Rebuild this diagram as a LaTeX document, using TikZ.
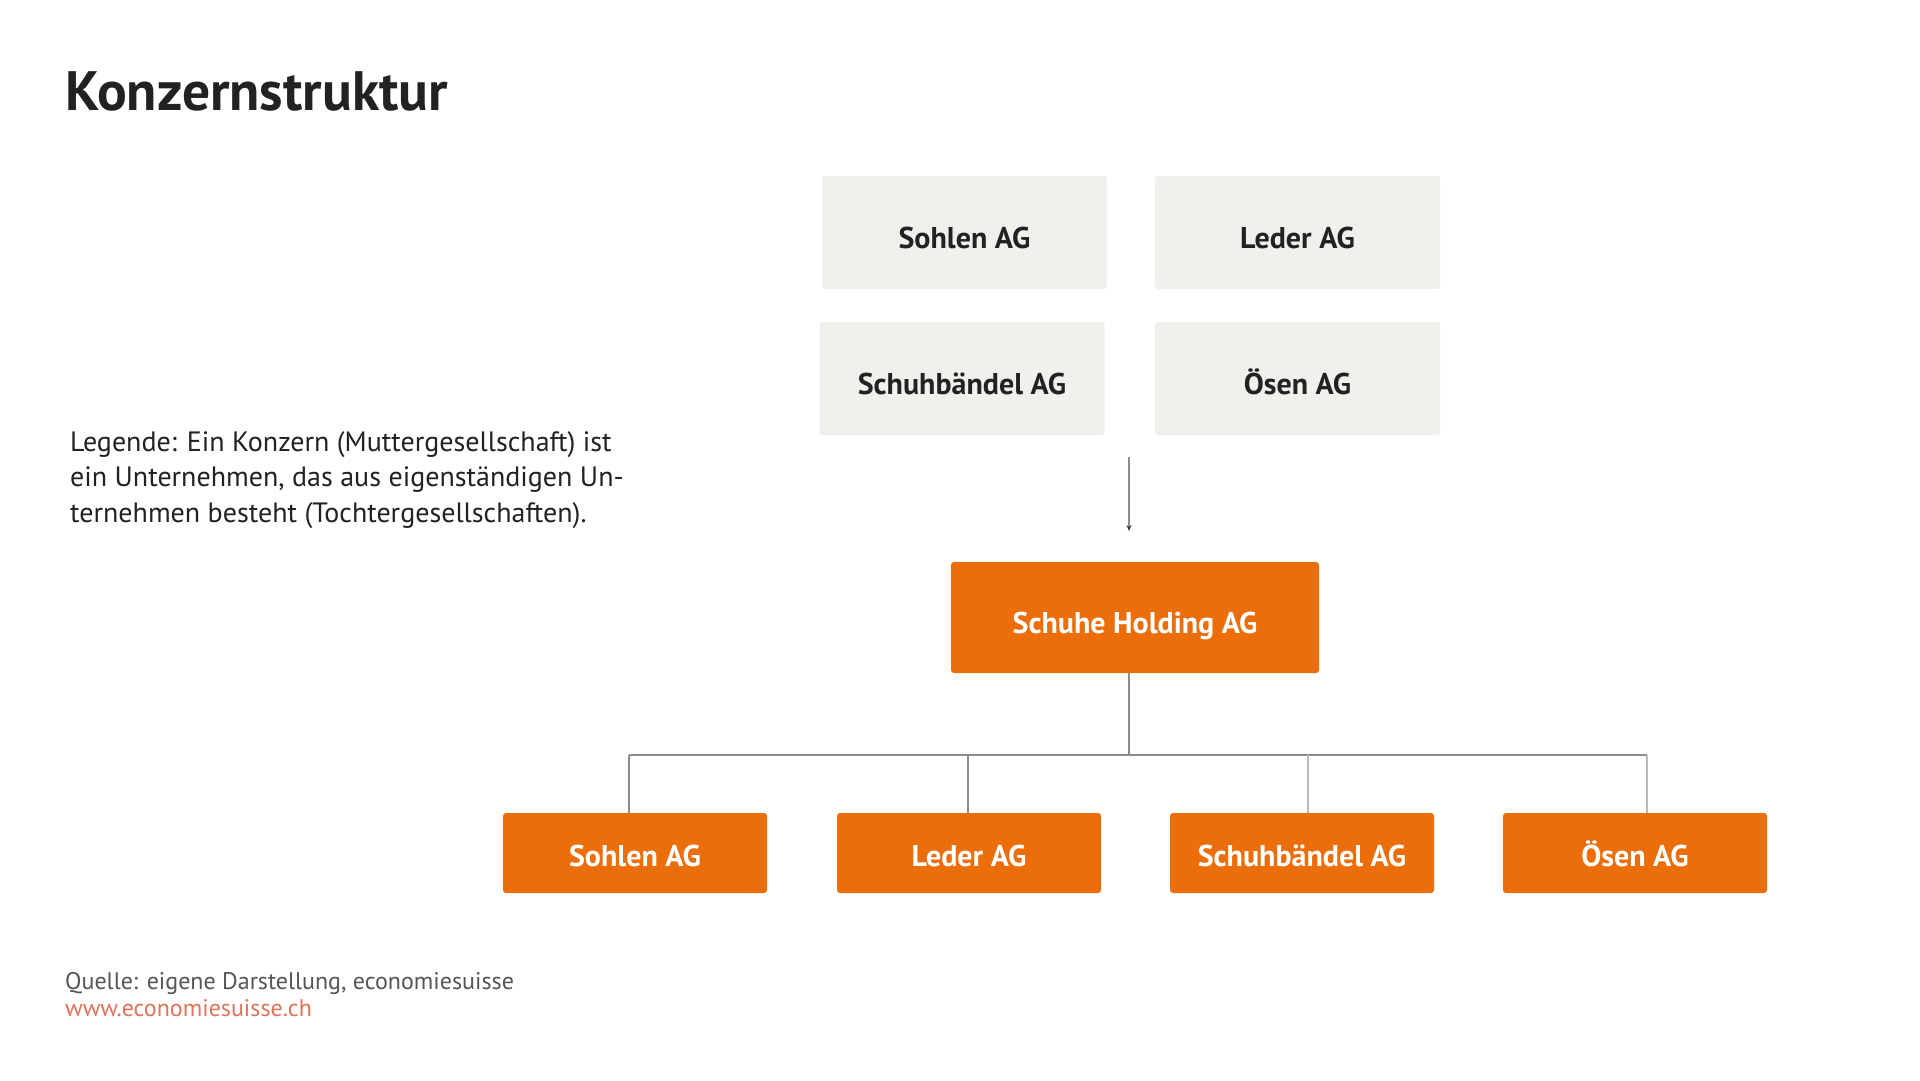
\documentclass[tikz,border=0pt]{standalone}
\usepackage{fontspec}
\setmainfont{PT Sans}
\usetikzlibrary{arrows.meta}
\definecolor{orng}{HTML}{EB6E0A}
\definecolor{lgray}{HTML}{F0F0EC}
\definecolor{txtdark}{HTML}{222222}
\definecolor{linegray}{HTML}{8C8C8C}
\definecolor{srcgray}{HTML}{555555}
\definecolor{urlred}{HTML}{E0735A}
\begin{document}
\begin{tikzpicture}[x=1pt,y=-1pt,
  boxfont/.style={font=\fontsize{30}{35}\selectfont\bfseries, text height=31pt, text depth=0pt},
  graybox/.style={boxfont, fill=lgray, rounded corners=3pt, minimum width=285pt, minimum height=113pt, inner sep=0pt, text=txtdark},
  holdbox/.style={boxfont, fill=orng, rounded corners=3pt, minimum width=368pt, minimum height=111pt, inner sep=0pt, text=white},
  subbox/.style={boxfont, text height=26pt, fill=orng, rounded corners=3pt, minimum width=264pt, minimum height=80pt, inner sep=0pt, text=white},
  conn/.style={draw=linegray, line width=1.3pt}]
\useasboundingbox[fill=white] (0,0) rectangle (1920,1080);

% title
\node[anchor=base west, inner sep=0pt, text=txtdark, font=\fontsize{55.5}{64}\selectfont\bfseries] (title) at (65,110) {Konzernstruktur};

% legend
\node[anchor=base west, inner sep=0pt, text=txtdark, align=left, font=\fontsize{28}{35.5}\selectfont] (legend) at (70,522) {Legende: Ein Konzern (Muttergesellschaft) ist\\ein Unternehmen, das aus eigenständigen Un-\\ternehmen besteht (Tochtergesellschaften).};

% upper gray boxes
\node[graybox] (g1) at (964.5,232.5) {Sohlen AG};
\node[graybox] (g2) at (1297.5,232.5) {Leder AG};
\node[graybox] (g3) at (962,378.5) {Schuhbändel AG};
\node[graybox] (g4) at (1297.5,378.5) {Ösen AG};

% arrow
\coordinate (a1) at (1129,457);
\coordinate (a2) at (1129,531);
\draw[conn, -{Stealth[length=6pt,width=5pt,color=black!80]}] (a1) -- (a2);

% holding
\node[holdbox] (hold) at (1135,617.5) {Schuhe Holding AG};

% subsidiaries
\node[subbox] (s1) at (635,853) {Sohlen AG};
\node[subbox] (s2) at (969,853) {Leder AG};
\node[subbox] (s3) at (1302,853) {Schuhbändel AG};
\node[subbox] (s4) at (1635,853) {Ösen AG};

% connectors
\coordinate (j) at (1129,755);
\coordinate (b1) at (629,755);
\coordinate (b2) at (968,755);
\coordinate (b3) at (1308,755);
\coordinate (b4) at (1647,755);
\draw[conn] (j |- hold.south) -- (j);
\draw[conn] (b1) -- (b4);
\draw[conn] (b1) -- (b1 |- s1.north);
\draw[conn] (b2) -- (b2 |- s2.north);
\draw[conn, draw=linegray!60] (b3) -- (b3 |- s3.north);
\draw[conn, draw=linegray!60] (b4) -- (b4 |- s4.north);

% source
\node[anchor=base west, inner sep=0pt, text=srcgray, font=\fontsize{24}{29}\selectfont] (src) at (65,989) {Quelle: eigene Darstellung, economiesuisse};
\node[anchor=base west, inner sep=0pt, text=urlred, font=\fontsize{24}{29}\selectfont] (url) at (65,1016) {www.economiesuisse.ch};
\end{tikzpicture}
\end{document}
